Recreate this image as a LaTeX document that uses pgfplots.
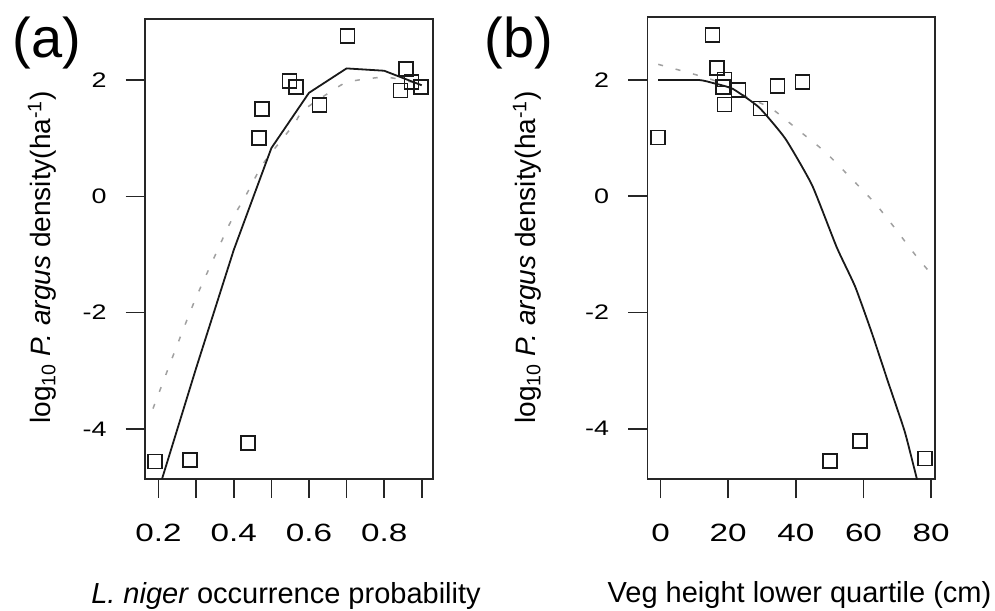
\documentclass[border=0pt]{standalone}
\usepackage{fontspec}
\setmainfont{Liberation Sans}
\usepackage{graphicx}
\usepackage{pgfplots}
\pgfplotsset{compat=1.18}
\newcommand{\xtl}[1]{\scalebox{1.33}[1]{#1}}
\newcommand{\ytl}[1]{\scalebox{1.28}[1]{#1}}
\definecolor{dashgrey}{RGB}{160,160,160}
\pgfplotsset{
  myaxis/.style={
    scale only axis,
    axis line style={line width=1.6bp, black!85},
    every tick/.style={line width=1.6bp, black!85},
    tick align=outside,
    major tick length=19bp,
    xtick pos=left, ytick pos=left,
    ytick={-4,-2,0,2},
    yticklabels={\ytl{-4},\ytl{-2},\ytl{0},\ytl{2}},
    yticklabel style={font=\fontsize{21bp}{25bp}\selectfont, anchor=east, inner sep=0pt, xshift=-19bp},
    xticklabel style={font=\fontsize{25bp}{30bp}\selectfont, anchor=north, inner sep=0pt, yshift=-26bp},
    clip=true,
  },
  pts/.style={only marks, mark=square, mark size=7bp, mark options={line width=1.6bp, black!90, fill=none}},
  fitline/.style={no marks, line width=1.8bp, black!90},
  dashline/.style={no marks, line width=1.5bp, dashgrey, dash pattern=on 5bp off 13bp},
}
\begin{document}
\begin{tikzpicture}[x=1bp,y=1bp]
\useasboundingbox (0,0) rectangle (995,611);
% ---------------- panel (a)
\begin{axis}[myaxis,
  at={(144.7bp,132bp)}, anchor=south west,
  width=288.3bp, height=460bp,
  xmin=0.163, xmax=0.930, ymin=-4.86, ymax=3.05,
  xtick={0.2,0.3,0.4,0.5,0.6,0.7,0.8,0.9},
  xticklabels={\xtl{0.2},,\xtl{0.4},,\xtl{0.6},,\xtl{0.8},},
]
\addplot[dashline, smooth, tension=0.4] table {
x y
0.185 -3.65
0.248 -2.58
0.297 -1.78
0.355 -0.95
0.390 -0.46
0.435 0.05
0.479 0.57
0.559 1.23
0.585 1.48
0.665 1.83
0.705 1.97
0.798 2.05
0.850 2.00
0.900 1.92
};
\addplot[fitline] table {
x y
0.2 -5.05
0.3 -2.95
0.4 -0.92
0.5 0.83
0.6 1.78
0.7 2.20
0.8 2.16
0.9 1.91
};
\addplot[pts] table {
x y
0.191 -4.56
0.284 -4.53
0.438 -4.24
0.467 1.00
0.475 1.50
0.548 1.98
0.566 1.88
0.628 1.57
0.703 2.76
0.844 1.82
0.858 2.19
0.873 1.97
0.898 1.88
};
\end{axis}
% ---------------- panel (b)
\begin{axis}[myaxis,
  at={(647.3bp,131.7bp)}, anchor=south west,
  width=287.7bp, height=462bp,
  xmin=-3.93, xmax=81.15, ymin=-4.87, ymax=3.08,
  xtick={0,20,40,60,80},
  xticklabels={\xtl{0},\xtl{20},\xtl{40},\xtl{60},\xtl{80}},
]
\addplot[dashline, smooth, tension=0.4] table {
x y
-0.7 2.27
10.5 2.09
16.4 1.98
25.2 1.72
33.0 1.50
40.9 1.13
48.7 0.76
56.5 0.30
63.4 -0.12
69.3 -0.55
75.6 -1.03
79.5 -1.30
};
\addplot[fitline, smooth, tension=0.3] table {
x y
-0.7 2.00
11.4 2.00
15.4 1.95
21.3 1.85
29.1 1.53
36.9 0.99
44.8 0.19
52.1 -0.88
57.5 -1.55
62.4 -2.34
67.3 -3.20
72.2 -4.05
75.6 -4.82
78.1 -5.38
};
\addplot[pts] table {
x y
-0.7 1.01
15.4 2.78
16.6 2.21
18.5 1.88
18.9 2.01
18.9 1.58
23.0 1.83
29.5 1.51
34.6 1.90
42.0 1.97
50.1 -4.56
58.9 -4.21
78.1 -4.51
};
\end{axis}
% ---------------- texts
\node[anchor=base, inner sep=0pt, font=\fontsize{56bp}{60bp}\selectfont] at (47,553) {(a)};
\node[anchor=base, inner sep=0pt, font=\fontsize{56bp}{60bp}\selectfont] at (519,553) {(b)};
\node[rotate=90, inner sep=0pt, font=\fontsize{28bp}{32bp}\selectfont] at (42,353.5)
  {log\textsubscript{10} \textit{P. argus} density(ha\textsuperscript{-1})};
\node[rotate=90, inner sep=0pt, font=\fontsize{28bp}{32bp}\selectfont] at (527,353.5)
  {log\textsubscript{10} \textit{P. argus} density(ha\textsuperscript{-1})};
\node[anchor=base, inner sep=0pt, font=\fontsize{29bp}{33bp}\selectfont] at (286,7)
  {\textit{L. niger} occurrence probability};
\node[anchor=base, inner sep=0pt, font=\fontsize{29bp}{33bp}\selectfont] at (799.5,8)
  {Veg height lower quartile (cm)};
\end{tikzpicture}
\end{document}
